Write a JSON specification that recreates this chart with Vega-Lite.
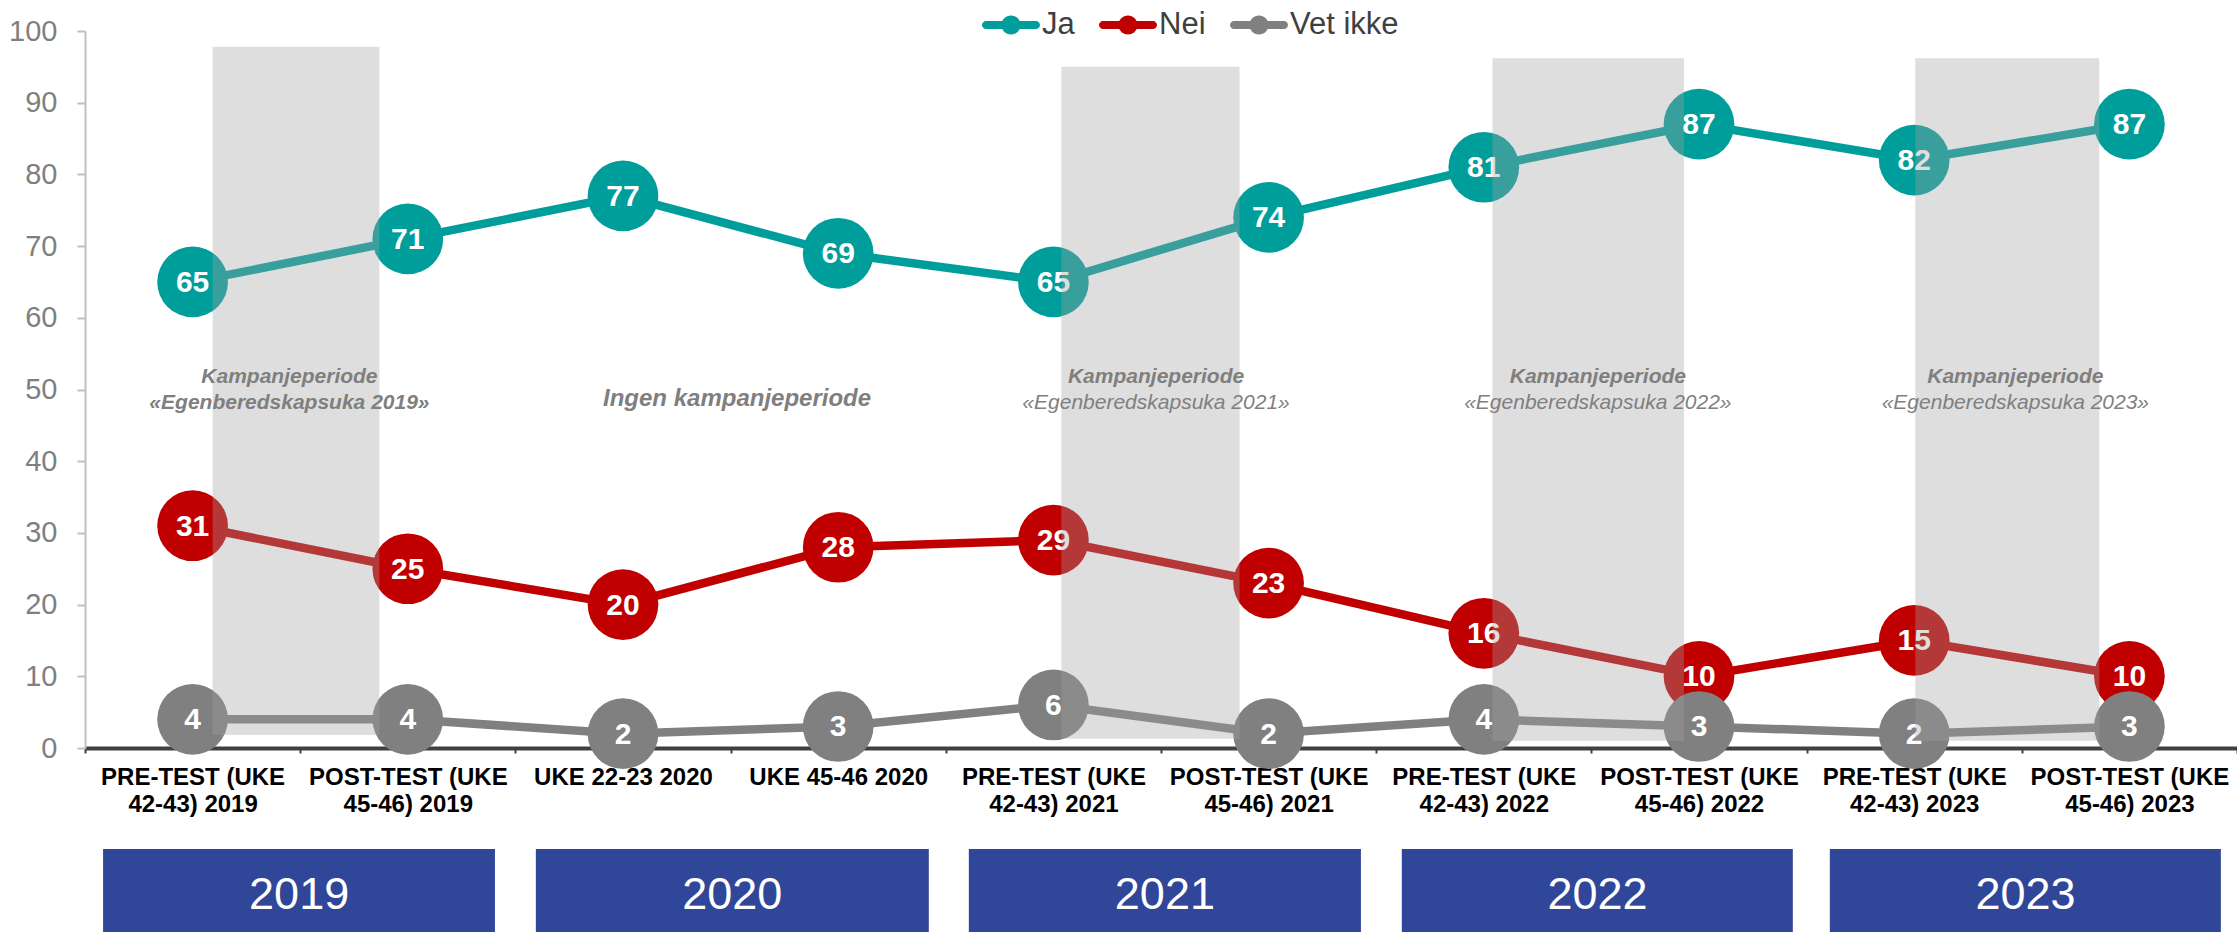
{
  "$schema": "https://vega.github.io/schema/vega-lite/v6.json",
  "width": 2152,
  "height": 717,
  "autosize": {"type": "none"},
  "padding": {"left": 85, "top": 31, "right": 0, "bottom": 184},
  "background": "white",
  "config": {"view": {"stroke": null}, "font": "Liberation Sans"},
  "datasets": {
    "results": [
      {"period": "PRE-TEST (UKE 42-43) 2019", "series": "Ja", "value": 65},
      {"period": "POST-TEST (UKE 45-46) 2019", "series": "Ja", "value": 71},
      {"period": "UKE 22-23 2020", "series": "Ja", "value": 77},
      {"period": "UKE 45-46 2020", "series": "Ja", "value": 69},
      {"period": "PRE-TEST (UKE 42-43) 2021", "series": "Ja", "value": 65},
      {"period": "POST-TEST (UKE 45-46) 2021", "series": "Ja", "value": 74},
      {"period": "PRE-TEST (UKE 42-43) 2022", "series": "Ja", "value": 81},
      {"period": "POST-TEST (UKE 45-46) 2022", "series": "Ja", "value": 87},
      {"period": "PRE-TEST (UKE 42-43) 2023", "series": "Ja", "value": 82},
      {"period": "POST-TEST (UKE 45-46) 2023", "series": "Ja", "value": 87},
      {"period": "PRE-TEST (UKE 42-43) 2019", "series": "Nei", "value": 31},
      {"period": "POST-TEST (UKE 45-46) 2019", "series": "Nei", "value": 25},
      {"period": "UKE 22-23 2020", "series": "Nei", "value": 20},
      {"period": "UKE 45-46 2020", "series": "Nei", "value": 28},
      {"period": "PRE-TEST (UKE 42-43) 2021", "series": "Nei", "value": 29},
      {"period": "POST-TEST (UKE 45-46) 2021", "series": "Nei", "value": 23},
      {"period": "PRE-TEST (UKE 42-43) 2022", "series": "Nei", "value": 16},
      {"period": "POST-TEST (UKE 45-46) 2022", "series": "Nei", "value": 10},
      {"period": "PRE-TEST (UKE 42-43) 2023", "series": "Nei", "value": 15},
      {"period": "POST-TEST (UKE 45-46) 2023", "series": "Nei", "value": 10},
      {"period": "PRE-TEST (UKE 42-43) 2019", "series": "Vet ikke", "value": 4},
      {"period": "POST-TEST (UKE 45-46) 2019", "series": "Vet ikke", "value": 4},
      {"period": "UKE 22-23 2020", "series": "Vet ikke", "value": 2},
      {"period": "UKE 45-46 2020", "series": "Vet ikke", "value": 3},
      {"period": "PRE-TEST (UKE 42-43) 2021", "series": "Vet ikke", "value": 6},
      {"period": "POST-TEST (UKE 45-46) 2021", "series": "Vet ikke", "value": 2},
      {"period": "PRE-TEST (UKE 42-43) 2022", "series": "Vet ikke", "value": 4},
      {"period": "POST-TEST (UKE 45-46) 2022", "series": "Vet ikke", "value": 3},
      {"period": "PRE-TEST (UKE 42-43) 2023", "series": "Vet ikke", "value": 2},
      {"period": "POST-TEST (UKE 45-46) 2023", "series": "Vet ikke", "value": 3}
    ],
    "shading": [
      {"year": 2019, "start": 0.093, "end": 0.868, "top": 97.8, "bottom": 1.8},
      {"year": 2021, "start": 4.037, "end": 4.865, "top": 95.0, "bottom": 1.3},
      {"year": 2022, "start": 6.04, "end": 6.93, "top": 96.2, "bottom": 1.0},
      {"year": 2023, "start": 8.005, "end": 8.86, "top": 96.2, "bottom": 1.0}
    ],
    "notes": [
      {"year": 2019, "line": 1, "text": "Kampanjeperiode", "pos": 0.45, "level": 51.7},
      {"year": 2019, "line": 2, "text": "«Egenberedskapsuka 2019»", "pos": 0.45, "level": 48.1},
      {"year": 2020, "line": 1, "text": "Ingen kampanjeperiode", "pos": 2.53, "level": 48.7},
      {"year": 2021, "line": 1, "text": "Kampanjeperiode", "pos": 4.477, "level": 51.7},
      {"year": 2021, "line": 2, "text": "«Egenberedskapsuka 2021»", "pos": 4.477, "level": 48.1},
      {"year": 2022, "line": 1, "text": "Kampanjeperiode", "pos": 6.53, "level": 51.7},
      {"year": 2022, "line": 2, "text": "«Egenberedskapsuka 2022»", "pos": 6.53, "level": 48.1},
      {"year": 2023, "line": 1, "text": "Kampanjeperiode", "pos": 8.47, "level": 51.7},
      {"year": 2023, "line": 2, "text": "«Egenberedskapsuka 2023»", "pos": 8.47, "level": 48.1}
    ],
    "years": [
      {"year": "2019", "from": -0.416, "to": 1.405, "mid": 0.495},
      {"year": "2020", "from": 1.595, "to": 3.421, "mid": 2.508},
      {"year": "2021", "from": 3.607, "to": 5.429, "mid": 4.518},
      {"year": "2022", "from": 5.619, "to": 7.436, "mid": 6.528},
      {"year": "2023", "from": 7.608, "to": 9.425, "mid": 8.517}
    ]
  },
  "layer": [
    {
      "data": {"name": "results"},
      "encoding": {
        "x": {
          "field": "period",
          "type": "ordinal",
          "sort": ["PRE-TEST (UKE 42-43) 2019", "POST-TEST (UKE 45-46) 2019", "UKE 22-23 2020", "UKE 45-46 2020", "PRE-TEST (UKE 42-43) 2021", "POST-TEST (UKE 45-46) 2021", "PRE-TEST (UKE 42-43) 2022", "POST-TEST (UKE 45-46) 2022", "PRE-TEST (UKE 42-43) 2023", "POST-TEST (UKE 45-46) 2023"],
          "scale": {"type": "band", "paddingInner": 0, "paddingOuter": 0},
          "axis": {
            "title": null,
            "labelAngle": 0,
            "labelFont": "Liberation Sans",
            "labelFontSize": 24,
            "labelFontWeight": "bold",
            "labelColor": "#000000",
            "labelLineHeight": 27,
            "labelBaseline": "top",
            "labelLimit": 0,
            "labelPadding": 12,
            "labelExpr": "indexof(datum.label, '(UKE') >= 0 ? [substring(datum.label, 0, indexof(datum.label, '(UKE') + 4), substring(datum.label, indexof(datum.label, '(UKE') + 5)] : datum.label",
            "tickBand": "extent",
            "tickColor": "#404040",
            "tickWidth": 2,
            "tickSize": 5,
            "domainColor": "#404040",
            "domainWidth": 4,
            "grid": false
          }
        },
        "y": {
          "field": "value",
          "type": "quantitative",
          "scale": {"domain": [0, 100], "nice": false},
          "axis": {
            "title": null,
            "values": [0, 10, 20, 30, 40, 50, 60, 70, 80, 90, 100],
            "labelFont": "Liberation Sans",
            "labelFontSize": 29,
            "labelColor": "#7F7F7F",
            "labelPadding": 20,
            "labelFlush": false,
            "tickColor": "#BFBFBF",
            "tickWidth": 2,
            "tickSize": 8,
            "domainColor": "#BFBFBF",
            "domainWidth": 2,
            "grid": false
          }
        },
        "color": {
          "field": "series", "type": "nominal",
          "scale": {"domain": ["Ja", "Nei", "Vet ikke"], "range": ["#009E9A", "#C00000", "#808080"]},
          "legend": {
            "title": null,
            "orient": "none",
            "legendX": 897,
            "legendY": -35,
            "direction": "horizontal",
            "symbolType": "M-0.86,-0.14 L0.86,-0.14 A0.14,0.14 0 0,1 0.86,0.14 L-0.86,0.14 A0.14,0.14 0 0,1 -0.86,-0.14 Z M-0.33,0 A0.33,0.33 0 1,1 0.33,0 A0.33,0.33 0 1,1 -0.33,0 Z",
            "symbolSize": 3364,
            "symbolStrokeWidth": 0,
            "symbolOpacity": 1,
            "symbolFillColor": null,
            "labelFont": "Liberation Sans",
            "labelFontSize": 31,
            "labelColor": "#404040",
            "labelOffset": 2,
            "labelLimit": 0,
            "columnPadding": 24,
            "padding": 0
          }
        }
      },
      "layer": [
        {
          "mark": {"type": "line", "strokeWidth": 8.5}
        },
        {
          "transform": [{"filter": "datum.series === 'Ja'"}],
          "mark": {"type": "point", "shape": "circle", "filled": true, "opacity": 1, "size": 5000, "strokeWidth": 0}
        },
        {
          "transform": [{"filter": "datum.series === 'Ja'"}],
          "mark": {"type": "text", "color": "#FFFFFF", "font": "Liberation Sans", "fontSize": 30, "fontWeight": "bold", "align": "center", "baseline": "middle", "dy": 1},
          "encoding": {"text": {"field": "value", "type": "quantitative"}, "color": {"value": "#FFFFFF"}}
        },
        {
          "transform": [{"filter": "datum.series === 'Nei'"}],
          "mark": {"type": "point", "shape": "circle", "filled": true, "opacity": 1, "size": 5000, "strokeWidth": 0}
        },
        {
          "transform": [{"filter": "datum.series === 'Nei'"}],
          "mark": {"type": "text", "color": "#FFFFFF", "font": "Liberation Sans", "fontSize": 30, "fontWeight": "bold", "align": "center", "baseline": "middle", "dy": 1},
          "encoding": {"text": {"field": "value", "type": "quantitative"}, "color": {"value": "#FFFFFF"}}
        },
        {
          "transform": [{"filter": "datum.series === 'Vet ikke'"}],
          "mark": {"type": "point", "shape": "circle", "filled": true, "opacity": 1, "size": 5000, "strokeWidth": 0}
        },
        {
          "transform": [{"filter": "datum.series === 'Vet ikke'"}],
          "mark": {"type": "text", "color": "#FFFFFF", "font": "Liberation Sans", "fontSize": 30, "fontWeight": "bold", "align": "center", "baseline": "middle", "dy": 1},
          "encoding": {"text": {"field": "value", "type": "quantitative"}, "color": {"value": "#FFFFFF"}}
        }
      ]
    },
    {
      "layer": [
        {
          "data": {"name": "shading"},
          "mark": {"type": "rect", "fill": "#A0A0A0", "opacity": 0.35},
          "encoding": {
            "x": {"field": "start", "type": "quantitative", "scale": {"domain": [-0.5, 9.5], "nice": false, "zero": false}, "axis": null},
            "x2": {"field": "end"},
            "y": {"field": "top", "type": "quantitative", "scale": {"domain": [0, 100], "nice": false}, "axis": null},
            "y2": {"field": "bottom"}
          }
        },
        {
          "data": {"name": "notes"},
          "transform": [{"filter": "datum.year == 2019 || (datum.line == 1 && datum.year != 2020)"}],
          "mark": {"type": "text", "color": "#7F7F7F", "font": "Liberation Sans", "fontSize": 21, "fontWeight": "bold", "fontStyle": "italic", "align": "center", "baseline": "middle"},
          "encoding": {
            "x": {"field": "pos", "type": "quantitative", "scale": {"domain": [-0.5, 9.5], "nice": false, "zero": false}, "axis": null},
            "y": {"field": "level", "type": "quantitative", "scale": {"domain": [0, 100], "nice": false}, "axis": null},
            "text": {"field": "text"}
          }
        },
        {
          "data": {"name": "notes"},
          "transform": [{"filter": "datum.line == 2 && datum.year != 2019"}],
          "mark": {"type": "text", "color": "#7F7F7F", "font": "Liberation Sans", "fontSize": 21, "fontStyle": "italic", "align": "center", "baseline": "middle"},
          "encoding": {
            "x": {"field": "pos", "type": "quantitative", "scale": {"domain": [-0.5, 9.5], "nice": false, "zero": false}, "axis": null},
            "y": {"field": "level", "type": "quantitative", "scale": {"domain": [0, 100], "nice": false}, "axis": null},
            "text": {"field": "text"}
          }
        },
        {
          "data": {"name": "notes"},
          "transform": [{"filter": "datum.year == 2020"}],
          "mark": {"type": "text", "color": "#7F7F7F", "font": "Liberation Sans", "fontSize": 24, "fontWeight": "bold", "fontStyle": "italic", "align": "center", "baseline": "middle"},
          "encoding": {
            "x": {"field": "pos", "type": "quantitative", "scale": {"domain": [-0.5, 9.5], "nice": false, "zero": false}, "axis": null},
            "y": {"field": "level", "type": "quantitative", "scale": {"domain": [0, 100], "nice": false}, "axis": null},
            "text": {"field": "text"}
          }
        },
        {
          "data": {"name": "years"},
          "mark": {"type": "rect", "fill": "#2F4699"},
          "encoding": {
            "x": {"field": "from", "type": "quantitative", "scale": {"domain": [-0.5, 9.5], "nice": false, "zero": false}, "axis": null},
            "x2": {"field": "to"},
            "y": {"datum": -14.1, "type": "quantitative", "scale": {"domain": [0, 100], "nice": false}, "axis": null},
            "y2": {"datum": -27}
          }
        },
        {
          "data": {"name": "years"},
          "mark": {"type": "text", "color": "#FFFFFF", "font": "Liberation Sans", "fontSize": 45, "align": "center", "baseline": "middle", "dy": 1},
          "encoding": {
            "x": {"field": "mid", "type": "quantitative", "scale": {"domain": [-0.5, 9.5], "nice": false, "zero": false}, "axis": null},
            "y": {"datum": -20.4, "type": "quantitative", "scale": {"domain": [0, 100], "nice": false}, "axis": null},
            "text": {"field": "year"}
          }
        }
      ]
    }
  ],
  "resolve": {"scale": {"x": "independent"}, "axis": {"y": "independent"}}
}
